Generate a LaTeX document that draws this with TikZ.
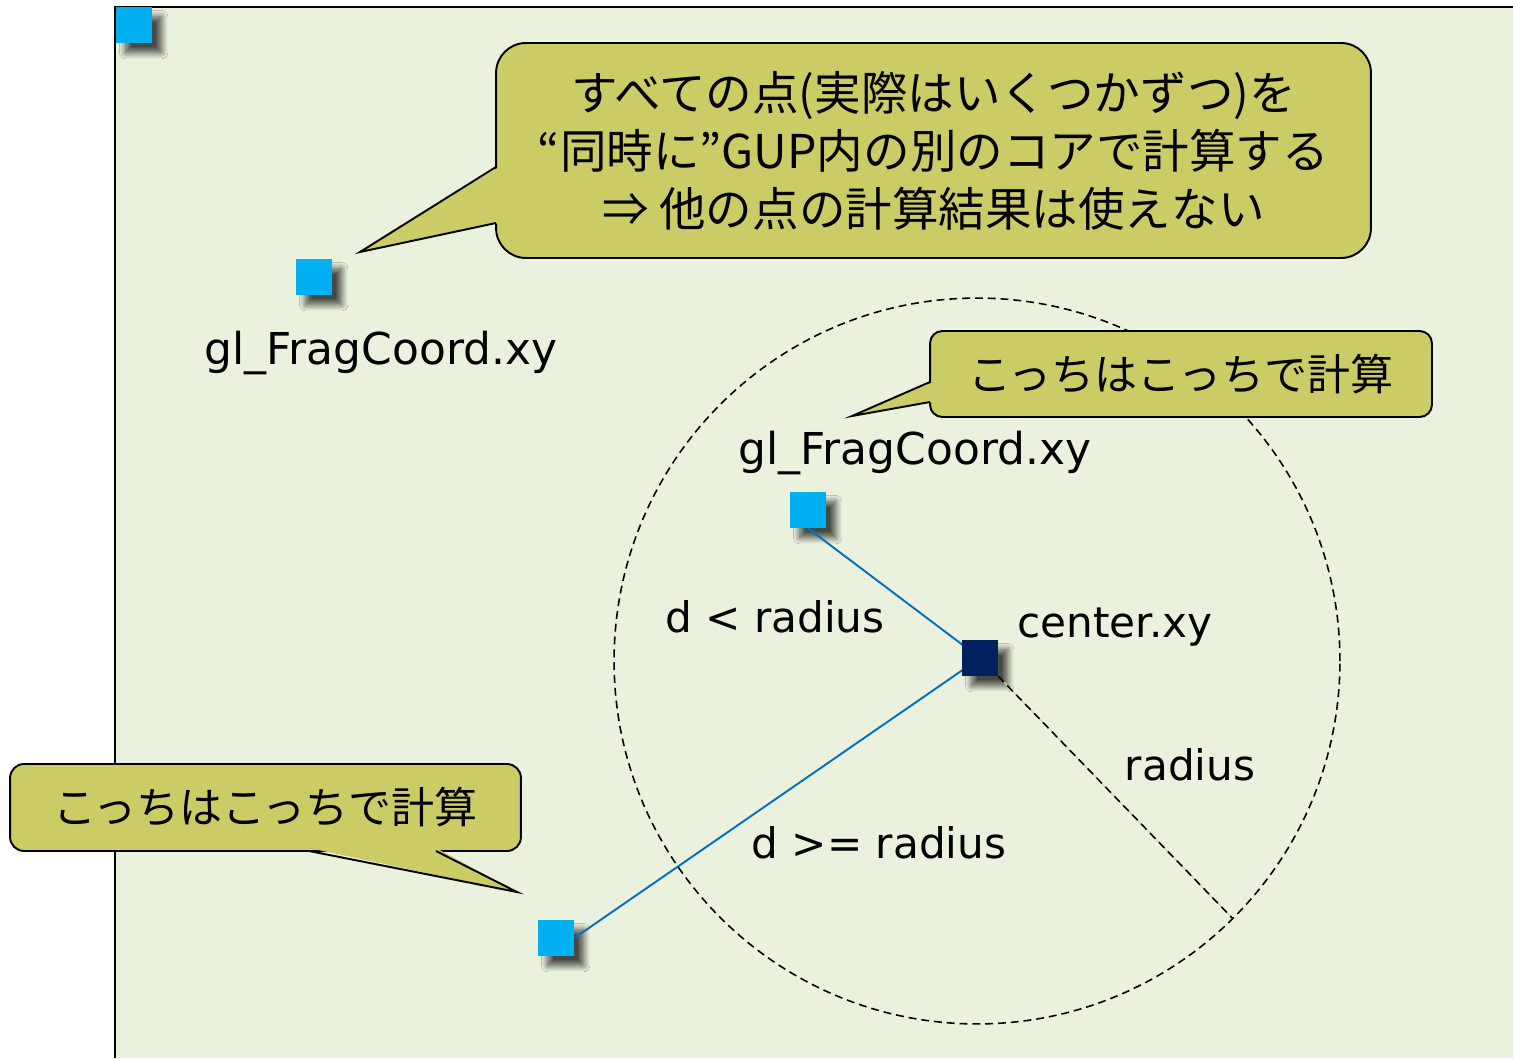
\documentclass[tikz,border=0pt]{standalone}
\usepackage{fontspec}
\setmainfont{DejaVu Sans}
\newfontfamily\jp{Noto Sans CJK JP}
\usetikzlibrary{calc,shadows.blur}

\definecolor{panel}{HTML}{EAF1DD}
\definecolor{olive}{HTML}{CCCC66}
\definecolor{sky}{HTML}{00B0F0}
\definecolor{navy}{HTML}{002060}
\definecolor{wire}{HTML}{0070C0}
\definecolor{pale}{HTML}{D6D68E}

\tikzset{
  px/.style={x=0.02cm,y=-0.02cm},
  pix/.style={minimum size=0.72cm, inner sep=0pt, fill=sky,
    blur shadow={shadow xshift=5.5pt,shadow yshift=-5.5pt,shadow blur radius=3.5pt,
      shadow blur steps=12,shadow opacity=70}},
  lbl/.style={font=\fontsize{24}{29}\selectfont, inner sep=0pt},
  balloon/.style={fill=olive, draw=black, line width=1.1pt, align=center, inner sep=0pt,
    font=\jp\fontsize{24.5}{33}\selectfont},
  edge/.style={line width=1.1pt, line join=miter},
  ring/.style={line width=0.9pt, dash pattern=on 4.5pt off 2.8pt},
}

\begin{document}
\begin{tikzpicture}[px]
\useasboundingbox (0,0) rectangle (1513,1058);
% background panel
\fill[panel] (115,7) rectangle (1513,1058);
\draw[line width=1.1pt] (115,1058) -- (115,7) -- (1513,7);

% circle of radius round center.xy
\coordinate (c) at (980,658);
\coordinate (ring) at (977,661);
\coordinate (rim) at ($(ring)+(-45.2:7.26cm)$);
\draw[ring] (ring) circle[radius=7.26cm];

% fragments
\node[pix] (corner) at (134,25) {};
\node[pix] (p1) at (314,277) {};
\node[pix] (p2) at (808,510) {};
\node[pix] (p3) at (556,938) {};
\draw[wire, line width=1.1pt] (p2.south) -- (c);
\draw[wire, line width=1.1pt] (p3.east) -- (c);
\node[pix, fill=navy] (ctr) at (c) {};
\draw[pale, line width=0.6pt] (ctr.south east) -- (rim);
\draw[ring] (ctr.south east) -- (rim);

% labels
\node[lbl, font=\fontsize{25}{29}\selectfont] (t1) at (381,353) {gl\_FragCoord.xy};
\node[lbl, font=\fontsize{25}{29}\selectfont] (t2) at (915,453) {gl\_FragCoord.xy};
\node[lbl, anchor=west] (t3) at (1017,627) {center.xy};
\node[lbl] (t4) at (775,617) {d < radius};
\node[lbl] (t5) at (879,843) {d >= radius};
\node[lbl] (t6) at (1190,765) {radius};

% callouts
\node[balloon, minimum width=17.5cm, minimum height=4.3cm, rounded corners=17pt,
  font=\jp\fontsize{26.5}{33}\selectfont] (note) at (933.5,150.5)
  {すべての点(実際はいくつかずつ)を\\“同時に”GUP内の別のコアで計算する\\⇒ 他の点の計算結果は使えない};
\coordinate (noteTip) at (360,252);
\fill[olive] (499,167) -- (noteTip) -- (499,223) -- cycle;
\draw[edge] (496,167) -- (noteTip) -- (496,223);

\node[balloon, minimum width=10.04cm, minimum height=1.72cm, rounded corners=7pt] (here) at (1181,374) {こっちはこっちで計算};
\coordinate (hereTip) at (852,416);
\fill[olive] (933,382) -- (hereTip) -- (933,402) -- cycle;
\draw[edge] (930,382) -- (hereTip) -- (930,402);

\node[balloon, minimum width=10.22cm, minimum height=1.74cm, rounded corners=8pt] (there) at (265.5,807.5) {こっちはこっちで計算};
\coordinate (thereTip) at (517,892);
\fill[olive] (309,848) -- (thereTip) -- (436,848) -- cycle;
\draw[edge] (309,851) -- (thereTip) -- (436,851);
\end{tikzpicture}
\end{document}
